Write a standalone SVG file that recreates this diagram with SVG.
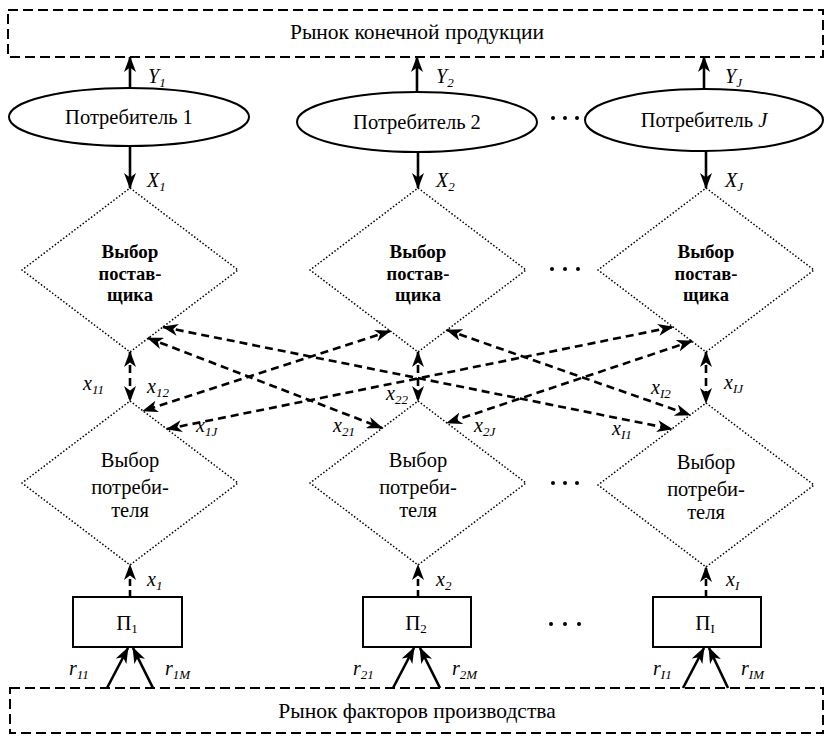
<svg xmlns="http://www.w3.org/2000/svg" width="825" height="737" viewBox="0 0 825 737">
<style>
text{font-family:"Liberation Serif","Times New Roman",serif;fill:#000}
.ttl{font-size:21.5px}
.el{font-size:20.5px}
.ub{font-size:19px;font-weight:bold}
.us{font-size:18.5px;font-weight:bold}
.lt{font-size:20.5px}
.v{font-size:20px;font-style:italic}
.s{font-size:13px;font-style:italic}
.pl{font-size:21px}
.ps{font-size:13px}
.mk{fill:none;stroke:#000;stroke-width:2;stroke-dasharray:10 5}
.nd{fill:#fff;stroke:#000;stroke-width:2}
.dm{fill:none;stroke:#000;stroke-width:1.5;stroke-dasharray:1.5 2}
.sa{stroke:#000;stroke-width:2.6;fill:none;marker-end:url(#ah)}
.da{stroke:#000;stroke-width:2.6;fill:none;stroke-dasharray:8 5;marker-start:url(#ah);marker-end:url(#ah)}
.ua{stroke:#000;stroke-width:2.6;fill:none;stroke-dasharray:7 4;marker-end:url(#ah)}
.dot{fill:#000}
</style>
<defs>
<marker id="ah" viewBox="0 0 16 12" refX="15" refY="6" markerWidth="16" markerHeight="12" markerUnits="userSpaceOnUse" orient="auto-start-reverse">
<path d="M0,0 L16,6 L0,12 L4.5,6 Z" fill="#000"/>
</marker>
</defs>

<g id="market-final">
<rect class="mk" x="8" y="10" width="815" height="47"/>
<text class="ttl" x="417" y="39" text-anchor="middle">Рынок конечной продукции</text>
</g>
<g id="market-factors">
<rect class="mk" x="10" y="688" width="813" height="45"/>
<text class="ttl" x="417" y="718" text-anchor="middle">Рынок факторов производства</text>
</g>

<g id="consumer-1">
<ellipse class="nd" cx="129" cy="117" rx="120" ry="29"/>
<text class="el" x="129" y="124" text-anchor="middle">Потребитель 1</text>
</g>
<g id="consumer-2">
<ellipse class="nd" cx="417" cy="122" rx="120" ry="30"/>
<text class="el" x="417" y="129" text-anchor="middle">Потребитель 2</text>
</g>
<g id="consumer-J">
<ellipse class="nd" cx="704" cy="120" rx="119" ry="31"/>
<text class="el" x="704" y="127" text-anchor="middle">Потребитель <tspan font-style="italic">J</tspan></text>
</g>

<g id="supplier-choice-1">
<polygon class="dm" points="130,188 238,270 130,352 22,270"/>
<text class="ub" x="130" y="258" text-anchor="middle">Выбор</text>
<text class="us" x="130" y="280" text-anchor="middle">постав-</text>
<text class="us" x="130" y="301" text-anchor="middle">щика</text>
</g>
<g id="supplier-choice-2">
<polygon class="dm" points="418,188 526,270 418,352 310,270"/>
<text class="ub" x="418" y="258" text-anchor="middle">Выбор</text>
<text class="us" x="418" y="280" text-anchor="middle">постав-</text>
<text class="us" x="418" y="301" text-anchor="middle">щика</text>
</g>
<g id="supplier-choice-J">
<polygon class="dm" points="706,188 814,270 706,352 598,270"/>
<text class="ub" x="706" y="258" text-anchor="middle">Выбор</text>
<text class="us" x="706" y="280" text-anchor="middle">постав-</text>
<text class="us" x="706" y="301" text-anchor="middle">щика</text>
</g>

<g id="consumer-choice-1">
<polygon class="dm" points="130,401 238,483 130,565 22,483"/>
<text class="lt" x="130" y="467" text-anchor="middle">Выбор</text>
<text class="lt" x="130" y="494" text-anchor="middle">потреби-</text>
<text class="lt" x="130" y="517" text-anchor="middle">теля</text>
</g>
<g id="consumer-choice-2">
<polygon class="dm" points="418,401 526,483 418,565 310,483"/>
<text class="lt" x="418" y="467" text-anchor="middle">Выбор</text>
<text class="lt" x="418" y="494" text-anchor="middle">потреби-</text>
<text class="lt" x="418" y="517" text-anchor="middle">теля</text>
</g>
<g id="consumer-choice-I">
<polygon class="dm" points="706,403 814,485 706,567 598,485"/>
<text class="lt" x="706" y="469" text-anchor="middle">Выбор</text>
<text class="lt" x="706" y="496" text-anchor="middle">потреби-</text>
<text class="lt" x="706" y="519" text-anchor="middle">теля</text>
</g>

<g id="producer-1">
<rect class="nd" x="73" y="597" width="109" height="50"/>
<text class="pl" x="127" y="630" text-anchor="middle">П<tspan class="ps" dy="3">1</tspan></text>
</g>
<g id="producer-2">
<rect class="nd" x="363" y="597" width="108" height="50"/>
<text class="pl" x="416" y="630" text-anchor="middle">П<tspan class="ps" dy="3">2</tspan></text>
</g>
<g id="producer-I">
<rect class="nd" x="653" y="597" width="108" height="50"/>
<text class="pl" x="705" y="630" text-anchor="middle">П<tspan class="ps" dy="3">I</tspan></text>
</g>

<g id="ellipsis">
<circle class="dot" cx="553" cy="118" r="2"/><circle class="dot" cx="565" cy="118" r="2"/><circle class="dot" cx="577" cy="118" r="2"/>
<circle class="dot" cx="552" cy="269" r="2"/><circle class="dot" cx="565" cy="269" r="2"/><circle class="dot" cx="578" cy="269" r="2"/>
<circle class="dot" cx="553" cy="483" r="2"/><circle class="dot" cx="565" cy="483" r="2"/><circle class="dot" cx="577" cy="483" r="2"/>
<circle class="dot" cx="551" cy="624" r="2"/><circle class="dot" cx="565" cy="624" r="2"/><circle class="dot" cx="579" cy="624" r="2"/>
</g>

<g id="connectors">
<line class="sa" x1="130" y1="88" x2="130" y2="57"/>
<line class="sa" x1="417" y1="92" x2="417" y2="57"/>
<line class="sa" x1="704" y1="89" x2="704" y2="57"/>
<line class="sa" x1="130" y1="146" x2="130" y2="188"/>
<line class="sa" x1="418" y1="152" x2="418" y2="188"/>
<line class="sa" x1="706" y1="151" x2="706" y2="188"/>

<line class="da" x1="130" y1="352" x2="130" y2="401"/>
<line class="da" x1="418" y1="352" x2="418" y2="401"/>
<line class="da" x1="706" y1="352" x2="706" y2="403"/>
<line class="da" x1="148" y1="338" x2="382" y2="428"/>
<line class="da" x1="163" y1="327" x2="672" y2="429"/>
<line class="da" x1="390" y1="331" x2="143" y2="411"/>
<line class="da" x1="167" y1="429" x2="673" y2="327"/>
<line class="da" x1="447" y1="330" x2="690" y2="415"/>
<line class="da" x1="692" y1="341" x2="447" y2="423"/>

<line class="ua" x1="130" y1="597" x2="130" y2="565"/>
<line class="ua" x1="418" y1="597" x2="418" y2="565"/>
<line class="ua" x1="706" y1="597" x2="706" y2="567"/>

<line class="sa" x1="107" y1="688" x2="128" y2="648"/>
<line class="sa" x1="153" y1="688" x2="133" y2="648"/>
<line class="sa" x1="393" y1="688" x2="414" y2="648"/>
<line class="sa" x1="440" y1="688" x2="420" y2="648"/>
<line class="sa" x1="683" y1="688" x2="704" y2="648"/>
<line class="sa" x1="728" y1="688" x2="709" y2="648"/>
</g>

<g id="labels">
<text class="v" x="148" y="83">Y<tspan class="s" dy="4">1</tspan></text>
<text class="v" x="436" y="83">Y<tspan class="s" dy="4">2</tspan></text>
<text class="v" x="725" y="83">Y<tspan class="s" dy="4">J</tspan></text>
<text class="v" x="147" y="187">X<tspan class="s" dy="4">1</tspan></text>
<text class="v" x="436" y="187">X<tspan class="s" dy="4">2</tspan></text>
<text class="v" x="725" y="187">X<tspan class="s" dy="4">J</tspan></text>
<text class="v" x="83" y="390">x<tspan class="s" dy="4">11</tspan></text>
<text class="v" x="147" y="393">x<tspan class="s" dy="4">12</tspan></text>
<text class="v" x="196" y="432">x<tspan class="s" dy="4">1J</tspan></text>
<text class="v" x="333" y="432">x<tspan class="s" dy="4">21</tspan></text>
<text class="v" x="386" y="400">x<tspan class="s" dy="4">22</tspan></text>
<text class="v" x="474" y="432">x<tspan class="s" dy="4">2J</tspan></text>
<text class="v" x="612" y="435">x<tspan class="s" dy="4">I1</tspan></text>
<text class="v" x="651" y="394">x<tspan class="s" dy="4">I2</tspan></text>
<text class="v" x="724" y="389">x<tspan class="s" dy="4">IJ</tspan></text>
<text class="v" x="147" y="586">x<tspan class="s" dy="4">1</tspan></text>
<text class="v" x="436" y="586">x<tspan class="s" dy="4">2</tspan></text>
<text class="v" x="726" y="586">x<tspan class="s" dy="4">I</tspan></text>
<text class="v" x="69" y="675">r<tspan class="s" dy="4">11</tspan></text>
<text class="v" x="165" y="675">r<tspan class="s" dy="4">1M</tspan></text>
<text class="v" x="353" y="675">r<tspan class="s" dy="4">21</tspan></text>
<text class="v" x="452" y="675">r<tspan class="s" dy="4">2M</tspan></text>
<text class="v" x="653" y="675">r<tspan class="s" dy="4">I1</tspan></text>
<text class="v" x="741" y="675">r<tspan class="s" dy="4">IM</tspan></text>
</g>
</svg>
